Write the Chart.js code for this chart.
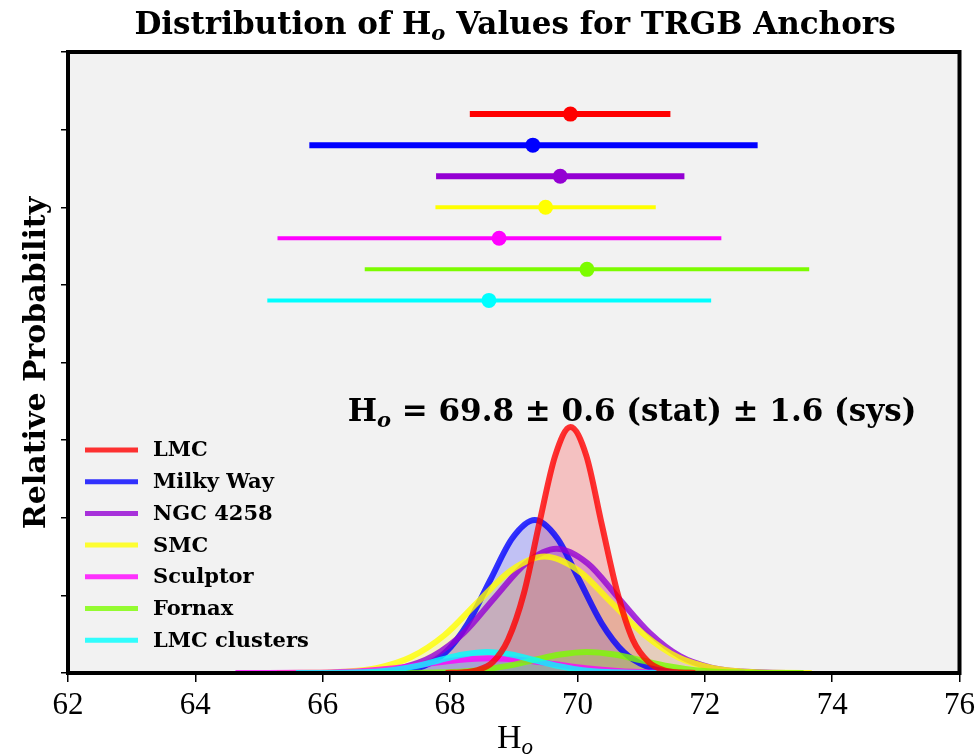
<!DOCTYPE html>
<html lang="en">
<head>
    <meta charset="UTF-8">
    <title>Distribution of Ho Values for TRGB Anchors</title>
    <script src="https://cdn.jsdelivr.net/npm/chart.js"></script>
    <style>
        body {
            margin: 0;
            background-color: #ffffff;
        }

        .chart-container {
            width: 980px;
            height: 755px;
        }
    </style>
</head>
<body>
    <div class="chart-container">
        <canvas id="chart" width="980" height="755"></canvas>
    </div>

    <script>
        // anchors, in legend order
        const sources = ['LMC', 'Milky Way', 'NGC 4258', 'SMC', 'Sculptor', 'Fornax', 'LMC clusters'];

        // error bars at the top (Ho value of the dot, and the two ends of each bar)
        const centers = [69.89, 69.30, 69.73, 69.50, 68.77, 70.15, 68.61];
        const lowEnds = [68.31, 65.79, 67.78, 67.77, 65.29, 66.66, 65.13];
        const highEnds = [71.46, 72.83, 71.68, 71.23, 72.26, 73.64, 72.10];
        const barRows = [7.2, 6.8, 6.4, 6.0, 5.6, 5.2, 4.8];

        // probability curves, [Ho, relative probability]
        const lmcCurve = [[67.93, 0.001], [68.18, 0.007], [68.42, 0.035], [68.67, 0.139], [68.91, 0.429], [69.16, 1.029], [69.40, 1.923], [69.65, 2.798], [69.89, 3.17], [70.14, 2.798], [70.38, 1.923], [70.63, 1.029], [70.87, 0.429], [71.12, 0.139], [71.36, 0.035], [71.61, 0.007], [71.85, 0.001]];
        const milkyWayCurve = [[66.53, 0.001], [66.88, 0.004], [67.23, 0.022], [67.58, 0.087], [67.93, 0.267], [68.28, 0.640], [68.63, 1.195], [68.98, 1.739], [69.33, 1.97], [69.68, 1.739], [70.03, 1.195], [70.38, 0.640], [70.73, 0.267], [71.08, 0.087], [71.43, 0.022], [71.78, 0.004], [72.13, 0.001]];
        const ngcCurve = [[65.79, 0.001], [66.28, 0.004], [66.76, 0.018], [67.25, 0.070], [67.73, 0.217], [68.22, 0.520], [68.70, 0.970], [69.19, 1.412], [69.67, 1.60], [70.16, 1.412], [70.64, 0.970], [71.13, 0.520], [71.61, 0.217], [72.10, 0.070], [72.58, 0.018], [73.07, 0.004], [73.55, 0.001]];
        const smcCurve = [[65.28, 0.001], [65.81, 0.003], [66.33, 0.017], [66.86, 0.066], [67.38, 0.203], [67.91, 0.487], [68.43, 0.910], [68.96, 1.324], [69.48, 1.50], [70.01, 1.324], [70.53, 0.910], [71.06, 0.487], [71.58, 0.203], [72.11, 0.066], [72.63, 0.017], [73.16, 0.003], [73.68, 0.001]];
        const sculptorCurve = [[64.63, 0], [65.13, 0], [65.63, 0.002], [66.13, 0.008], [66.63, 0.026], [67.13, 0.062], [67.63, 0.115], [68.13, 0.168], [68.63, 0.19], [69.13, 0.168], [69.63, 0.115], [70.13, 0.062], [70.63, 0.026], [71.13, 0.008], [71.63, 0.002], [72.13, 0], [72.63, 0]];
        const fornaxCurve = [[66.75, 0], [67.18, 0.001], [67.60, 0.003], [68.03, 0.012], [68.45, 0.037], [68.88, 0.088], [69.30, 0.164], [69.73, 0.238], [70.15, 0.27], [70.58, 0.238], [71.00, 0.164], [71.43, 0.088], [71.85, 0.037], [72.28, 0.012], [72.70, 0.003], [73.13, 0.001], [73.55, 0]];
        const lmcClusterCurve = [[65.58, 0], [65.96, 0.001], [66.33, 0.003], [66.71, 0.012], [67.08, 0.037], [67.46, 0.088], [67.83, 0.164], [68.21, 0.238], [68.58, 0.27], [68.96, 0.238], [69.33, 0.164], [69.71, 0.088], [70.08, 0.037], [70.46, 0.012], [70.83, 0.003], [71.21, 0.001], [71.58, 0]];
        const curves = [lmcCurve, milkyWayCurve, ngcCurve, smcCurve, sculptorCurve, fornaxCurve, lmcClusterCurve];

        const xTicks = [62, 64, 66, 68, 70, 72, 74, 76];

        // styles
        const rgb = ['255,0,0', '0,0,255', '148,0,211', '255,255,0', '255,0,255', '124,252,0', '0,255,255'];
        const barWidths = [6, 6, 6, 4, 4, 4, 4];
        const serif = '"DejaVu Serif", serif';

        const datasets = [];

        // shaded areas first, underneath everything
        curves.forEach((c, i) => {
            datasets.push({
                label: sources[i] + ' area',
                data: c.map(p => ({ x: p[0], y: p[1] })),
                borderWidth: 0,
                borderColor: 'rgba(0,0,0,0)',
                backgroundColor: `rgba(${rgb[i]},0.2)`,
                fill: 'origin',
                pointRadius: 0,
                cubicInterpolationMode: 'monotone',
                order: 100 - i
            });
        });

        // then the curves: later ones over earlier ones, LMC on top of all
        curves.forEach((c, i) => {
            datasets.push({
                label: sources[i],
                data: c.map(p => ({ x: p[0], y: p[1] })),
                borderColor: `rgba(${rgb[i]},0.8)`,
                borderWidth: 6,
                fill: false,
                pointRadius: 0,
                cubicInterpolationMode: 'monotone',
                order: i === 0 ? 10 : 50 - i
            });
        });

        sources.forEach((s, i) => {
            datasets.push({
                label: s + ' range',
                data: [
                    { x: lowEnds[i], y: barRows[i] },
                    { x: centers[i], y: barRows[i] },
                    { x: highEnds[i], y: barRows[i] }
                ],
                borderColor: `rgb(${rgb[i]})`,
                backgroundColor: `rgb(${rgb[i]})`,
                borderWidth: barWidths[i],
                borderCapStyle: 'butt',
                fill: false,
                pointRadius: ctx => ctx.dataIndex === 1 ? 7.5 : 0,
                pointBorderWidth: 0,
                pointBackgroundColor: `rgb(${rgb[i]})`,
                order: i
            });
        });

        // write text pieces one after another (for the subscript o)
        function drawPieces(ctx, pieces, x, y, align) {
            let total = 0;
            pieces.forEach(p => {
                ctx.font = p.font;
                p.w = ctx.measureText(p.t).width;
                total += p.w;
            });
            let cx = align === 'center' ? x - total / 2 : x;
            pieces.forEach(p => {
                ctx.font = p.font;
                ctx.fillText(p.t, cx, y + (p.dy || 0));
                cx += p.w;
            });
        }

        const decor = {
            id: 'decor',
            beforeDraw(chart) {
                const { ctx, chartArea: a } = chart;
                ctx.save();
                ctx.fillStyle = '#f2f2f2';
                ctx.fillRect(a.left, a.top, a.right - a.left, a.bottom - a.top);
                ctx.restore();
            },
            afterDraw(chart) {
                const { ctx, chartArea: a } = chart;
                ctx.save();

                // frame
                ctx.strokeStyle = '#000';
                ctx.lineWidth = 4;
                ctx.strokeRect(a.left, a.top, a.right - a.left, a.bottom - a.top);

                ctx.fillStyle = '#000';
                ctx.textAlign = 'left';
                ctx.textBaseline = 'alphabetic';

                // title
                drawPieces(ctx, [
                    { t: 'Distribution of H', font: `bold 31px ${serif}` },
                    { t: 'o', font: `italic bold 21px ${serif}`, dy: 6 },
                    { t: ' Values for TRGB Anchors', font: `bold 31px ${serif}` }
                ], 515, 34, 'center');

                // result
                drawPieces(ctx, [
                    { t: 'H', font: `bold 31px ${serif}` },
                    { t: 'o', font: `italic bold 21px ${serif}`, dy: 6 },
                    { t: ' = 69.8 \u00b1 0.6 (stat) \u00b1 1.6 (sys)', font: `bold 31px ${serif}` }
                ], 632, 421, 'center');

                // x axis title
                drawPieces(ctx, [
                    { t: 'H', font: `34px "Liberation Serif", serif` },
                    { t: 'o', font: `italic 23px "Liberation Serif", serif`, dy: 6 }
                ], 515, 748, 'center');

                // y axis title
                ctx.save();
                ctx.translate(45, 363);
                ctx.rotate(-Math.PI / 2);
                ctx.textAlign = 'center';
                ctx.font = `bold 30px ${serif}`;
                ctx.fillText('Relative Probability', 0, 0);
                ctx.restore();

                // legend
                ctx.textBaseline = 'middle';
                ctx.font = `bold 21px ${serif}`;
                sources.forEach((s, i) => {
                    const ly = 450 + i * 31.7;
                    ctx.strokeStyle = `rgba(${rgb[i]},0.8)`;
                    ctx.lineWidth = 5;
                    ctx.beginPath();
                    ctx.moveTo(a.left + 17, ly);
                    ctx.lineTo(a.left + 70, ly);
                    ctx.stroke();
                    ctx.fillText(s, a.left + 85, ly + 1);
                });

                ctx.restore();
            }
        };

        new Chart(document.getElementById('chart'), {
            type: 'line',
            data: { datasets: datasets },
            options: {
                responsive: false,
                animation: false,
                layout: {
                    padding: { left: 48, top: 52, right: 20, bottom: 32 }
                },
                plugins: {
                    legend: { display: false },
                    tooltip: { enabled: false }
                },
                scales: {
                    x: {
                        type: 'linear',
                        min: 62,
                        max: 76,
                        afterFit: s => { s.height = 50; },
                        afterBuildTicks: s => { s.ticks = xTicks.map(v => ({ value: v })); },
                        ticks: {
                            color: '#000',
                            padding: 5,
                            font: { family: '"Liberation Serif", serif', size: 31 }
                        },
                        grid: {
                            drawOnChartArea: false,
                            tickLength: 9,
                            color: '#000',
                            lineWidth: 1.5
                        },
                        border: { display: false }
                    },
                    y: {
                        min: 0,
                        max: 8,
                        afterFit: s => { s.width = 20; },
                        ticks: { display: false, stepSize: 1 },
                        grid: {
                            drawOnChartArea: false,
                            tickLength: 7,
                            color: '#000',
                            lineWidth: 1.5
                        },
                        border: { display: false }
                    }
                }
            },
            plugins: [decor]
        });
    </script>
</body>
</html>
